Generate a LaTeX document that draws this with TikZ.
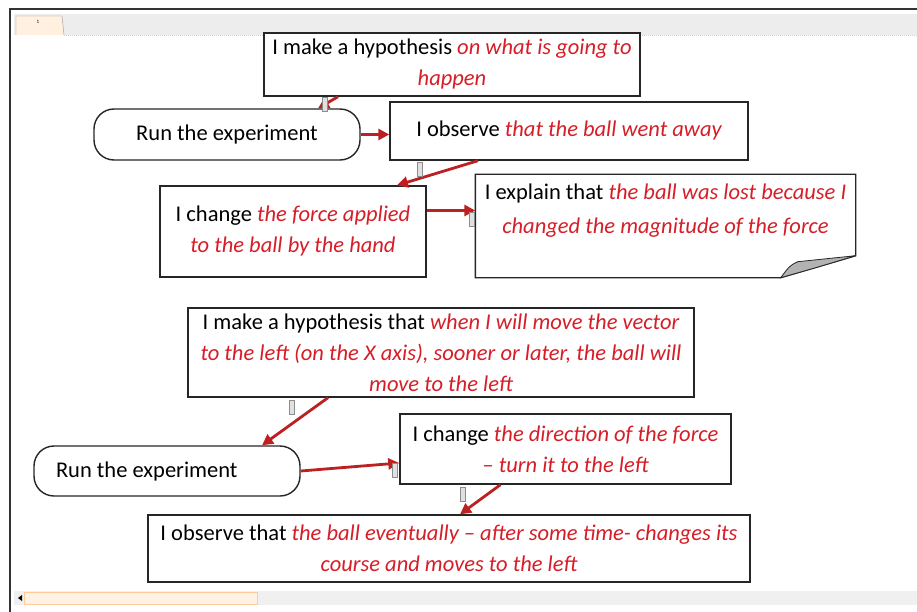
\documentclass[tikz,border=0pt]{standalone}
\usepackage{fontspec}
\setmainfont{Carlito}
\usetikzlibrary{arrows.meta}

\definecolor{txtred}{RGB}{214,30,40}
\definecolor{linkred}{RGB}{188,32,32}
\newcommand{\rtxt}[1]{{\color{txtred}\itshape #1}}

\begin{document}
\begin{tikzpicture}[x=1pt,y=-1pt,
  box/.style={draw=black!85, line width=1.4pt, fill=white, align=center, inner sep=0pt,
    font=\fontsize{22.5}{31}\selectfont},
  runbox/.style={box, rounded corners=20pt},
  link/.style={draw=linkred, line width=2.8pt, -{Triangle[length=11pt,width=11pt]}},
  linkmark/.style={draw=black!45, fill=black!12, line width=0.6pt}]
  \useasboundingbox (0,0) rectangle (917,612);

  % window frame, tab strip and scroll bar
  \fill[black!7] (14,14) rectangle (917,35);
  \draw[orange!40, densely dotted, line width=1pt] (64,36) -- (917,36);
  \draw[black!40, fill=orange!12] (16,35) -- (16,16) -- (62,16) -- (64,35);
  \node[font=\tiny] (tab) at (38,22) {1};
  \fill[black!6] (14,591) rectangle (917,605);
  \draw[orange!40, fill=orange!10] (24,592) rectangle (257,604);
  \fill[black] (22,595) -- (22,601) -- (18,598) -- cycle;
  \draw[black!80, line width=2.5pt] (10,612) -- (10,9) -- (917,9);

  % first experiment
  \node[box, minimum width=376pt, minimum height=63pt] (hyp1) at (452,64.5)
    {I make a hypothesis \rtxt{on what is going to}\\ \rtxt{happen}};
  \node[runbox, minimum width=266pt, minimum height=51pt] (run1) at (227,134.5)
    {Run the experiment};
  \node[box, minimum width=358pt, minimum height=58pt] (obs1) at (569,131)
    {I observe \rtxt{that the ball went away}};
  \node[box, minimum width=266pt, minimum height=91pt] (chg1) at (293,231.5)
    {I change \rtxt{the force applied}\\ \rtxt{to the ball by the hand}};
  \node[box, draw=none, fill=none, minimum width=379pt, minimum height=102pt,
    font=\fontsize{22.5}{34}\selectfont] (expl) at (665.5,226)
    {I explain that \rtxt{the ball was lost because I}\\ \rtxt{changed the magnitude of the force}\\ \mbox{}};
  \draw[black!85, line width=1.4pt] (expl.north west) -- (expl.north east)
    -- ([yshift=22pt]expl.south east) -- ([xshift=-75pt]expl.south east)
    -- (expl.south west) -- cycle;
  \draw[black!85, fill=black!30, line width=0.8pt] ([xshift=-75pt]expl.south east)
    .. controls ([xshift=-66pt,yshift=12pt]expl.south east) .. ([xshift=-58pt,yshift=16pt]expl.south east)
    -- ([yshift=22pt]expl.south east) -- ([xshift=-40pt,yshift=10pt]expl.south east) -- cycle;

  \draw[link] ([xshift=-114pt]hyp1.south) -- ([xshift=91pt]run1.north);
  \draw[link] (run1.east) -- (run1.east -| obs1.west);
  \draw[link] ([xshift=-91pt]obs1.south) -- ([xshift=104pt]chg1.north);
  \draw[link] ([yshift=21pt]chg1.east) -- ([yshift=21pt]chg1.east -| expl.west);

  % second experiment
  \node[box, minimum width=506pt, minimum height=89pt] (hyp2) at (441,352.5)
    {I make a hypothesis that \rtxt{when I will move the vector}\\
     \rtxt{to the left (on the X axis), sooner or later, the ball will}\\
     \rtxt{move to the left}};
  \node[box, minimum width=331pt, minimum height=70pt] (chg2) at (565.5,449)
    {I change \rtxt{the direction of the force}\\ \rtxt{-- turn it to the left}};
  \node[runbox, minimum width=266pt, minimum height=50pt, text width=222pt, align=flush left]
    (run2) at (167,471) {Run the experiment};
  \node[box, minimum width=602pt, minimum height=67pt] (obs2) at (449,548.5)
    {I observe that \rtxt{the ball eventually -- after some time- changes its}\\
     \rtxt{course and moves to the left}};

  \draw[link] ([xshift=-113pt]hyp2.south) -- ([xshift=95pt]run2.north);
  \draw[link] (run2.east) -- ([yshift=-14pt]chg2.west);
  \draw[link] ([xshift=-65pt]chg2.south) -- ([xshift=11pt]obs2.north);

  % small link handles
  \foreach \hx/\hy in {325/97, 420/162, 472/212, 292/400, 395/463, 463/487}
    \draw[linkmark] (\hx-2.5,\hy) rectangle (\hx+2.5,\hy+14);
\end{tikzpicture}
\end{document}
